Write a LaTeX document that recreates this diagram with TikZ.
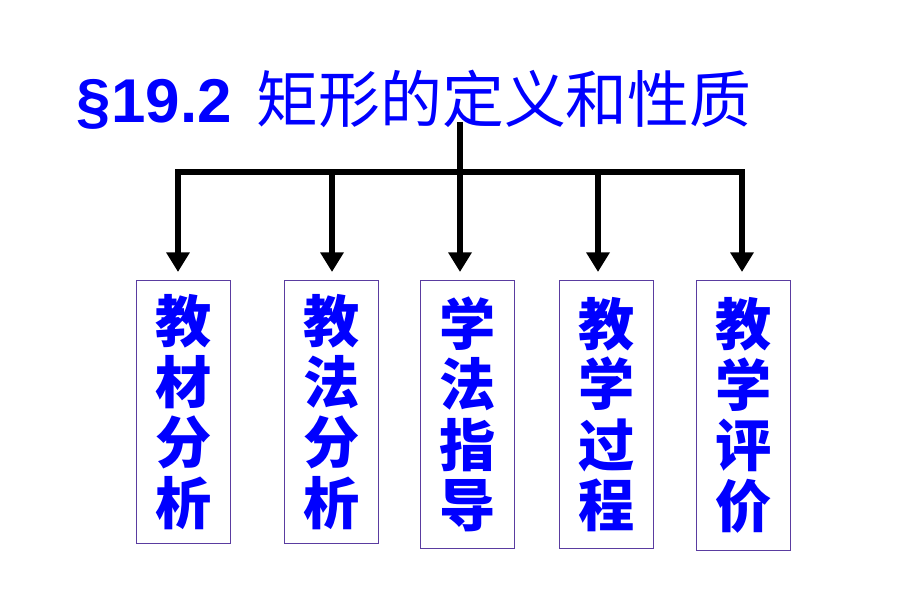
\documentclass[tikz,border=0pt]{standalone}
\usepackage{fontspec}
\setmainfont{Liberation Sans}
\newfontfamily\cjk{Noto Sans CJK SC}
\usetikzlibrary{arrows.meta}
\definecolor{titleblue}{RGB}{0,0,255}
\definecolor{boxline}{RGB}{90,60,160}
\tikzset{
  bar/.style={line width=3.6pt},
  down/.style={bar,-{Triangle[width=16pt,length=14pt]}},
  partbox/.style={draw=boxline,line width=0.6pt,minimum width=2.33cm,
    inner sep=0pt,align=center,text=titleblue,
    font=\cjk\bfseries\fontsize{40}{43}\selectfont}
}
\begin{document}
\begin{tikzpicture}[x=0.025cm,y=-0.025cm]
  \useasboundingbox (0,0) rectangle (920,616);

  \node[text=titleblue,font=\fontsize{44}{48}\selectfont,anchor=west] (title)
    at (72,100) {\bfseries §19.2\hspace{0.4em}{\mdseries\cjk 矩形的定义和性质}};

  \coordinate (top) at (460,122);
  \coordinate (mid) at (460,172);
  \coordinate (left) at (178,172);
  \coordinate (right) at (742,172);
  \draw[bar] (top) -- (mid);
  \draw[bar,line cap=rect] (left) -- (right);

  \node[partbox,minimum height=6.58cm,anchor=north] (b1) at (183.5,280) {教\\材\\分\\析};
  \node[partbox,minimum height=6.58cm,anchor=north] (b2) at (331.5,280) {教\\法\\分\\析};
  \node[partbox,minimum height=6.7cm,anchor=north] (b3) at (467.5,280) {学\\法\\指\\导};
  \node[partbox,minimum height=6.7cm,anchor=north] (b4) at (606.5,280) {教\\学\\过\\程};
  \node[partbox,minimum height=6.75cm,anchor=north] (b5) at (743.5,280) {教\\学\\评\\价};

  \coordinate (c1) at (178,172);
  \coordinate (c2) at (332,172);
  \coordinate (c3) at (460,172);
  \coordinate (c4) at (598,172);
  \coordinate (c5) at (742,172);
  \draw[down] (c1) -- (178,272);
  \draw[down] (c2) -- (332,272);
  \draw[down] (c3) -- (460,272);
  \draw[down] (c4) -- (598,272);
  \draw[down] (c5) -- (742,272);
\end{tikzpicture}
\end{document}
